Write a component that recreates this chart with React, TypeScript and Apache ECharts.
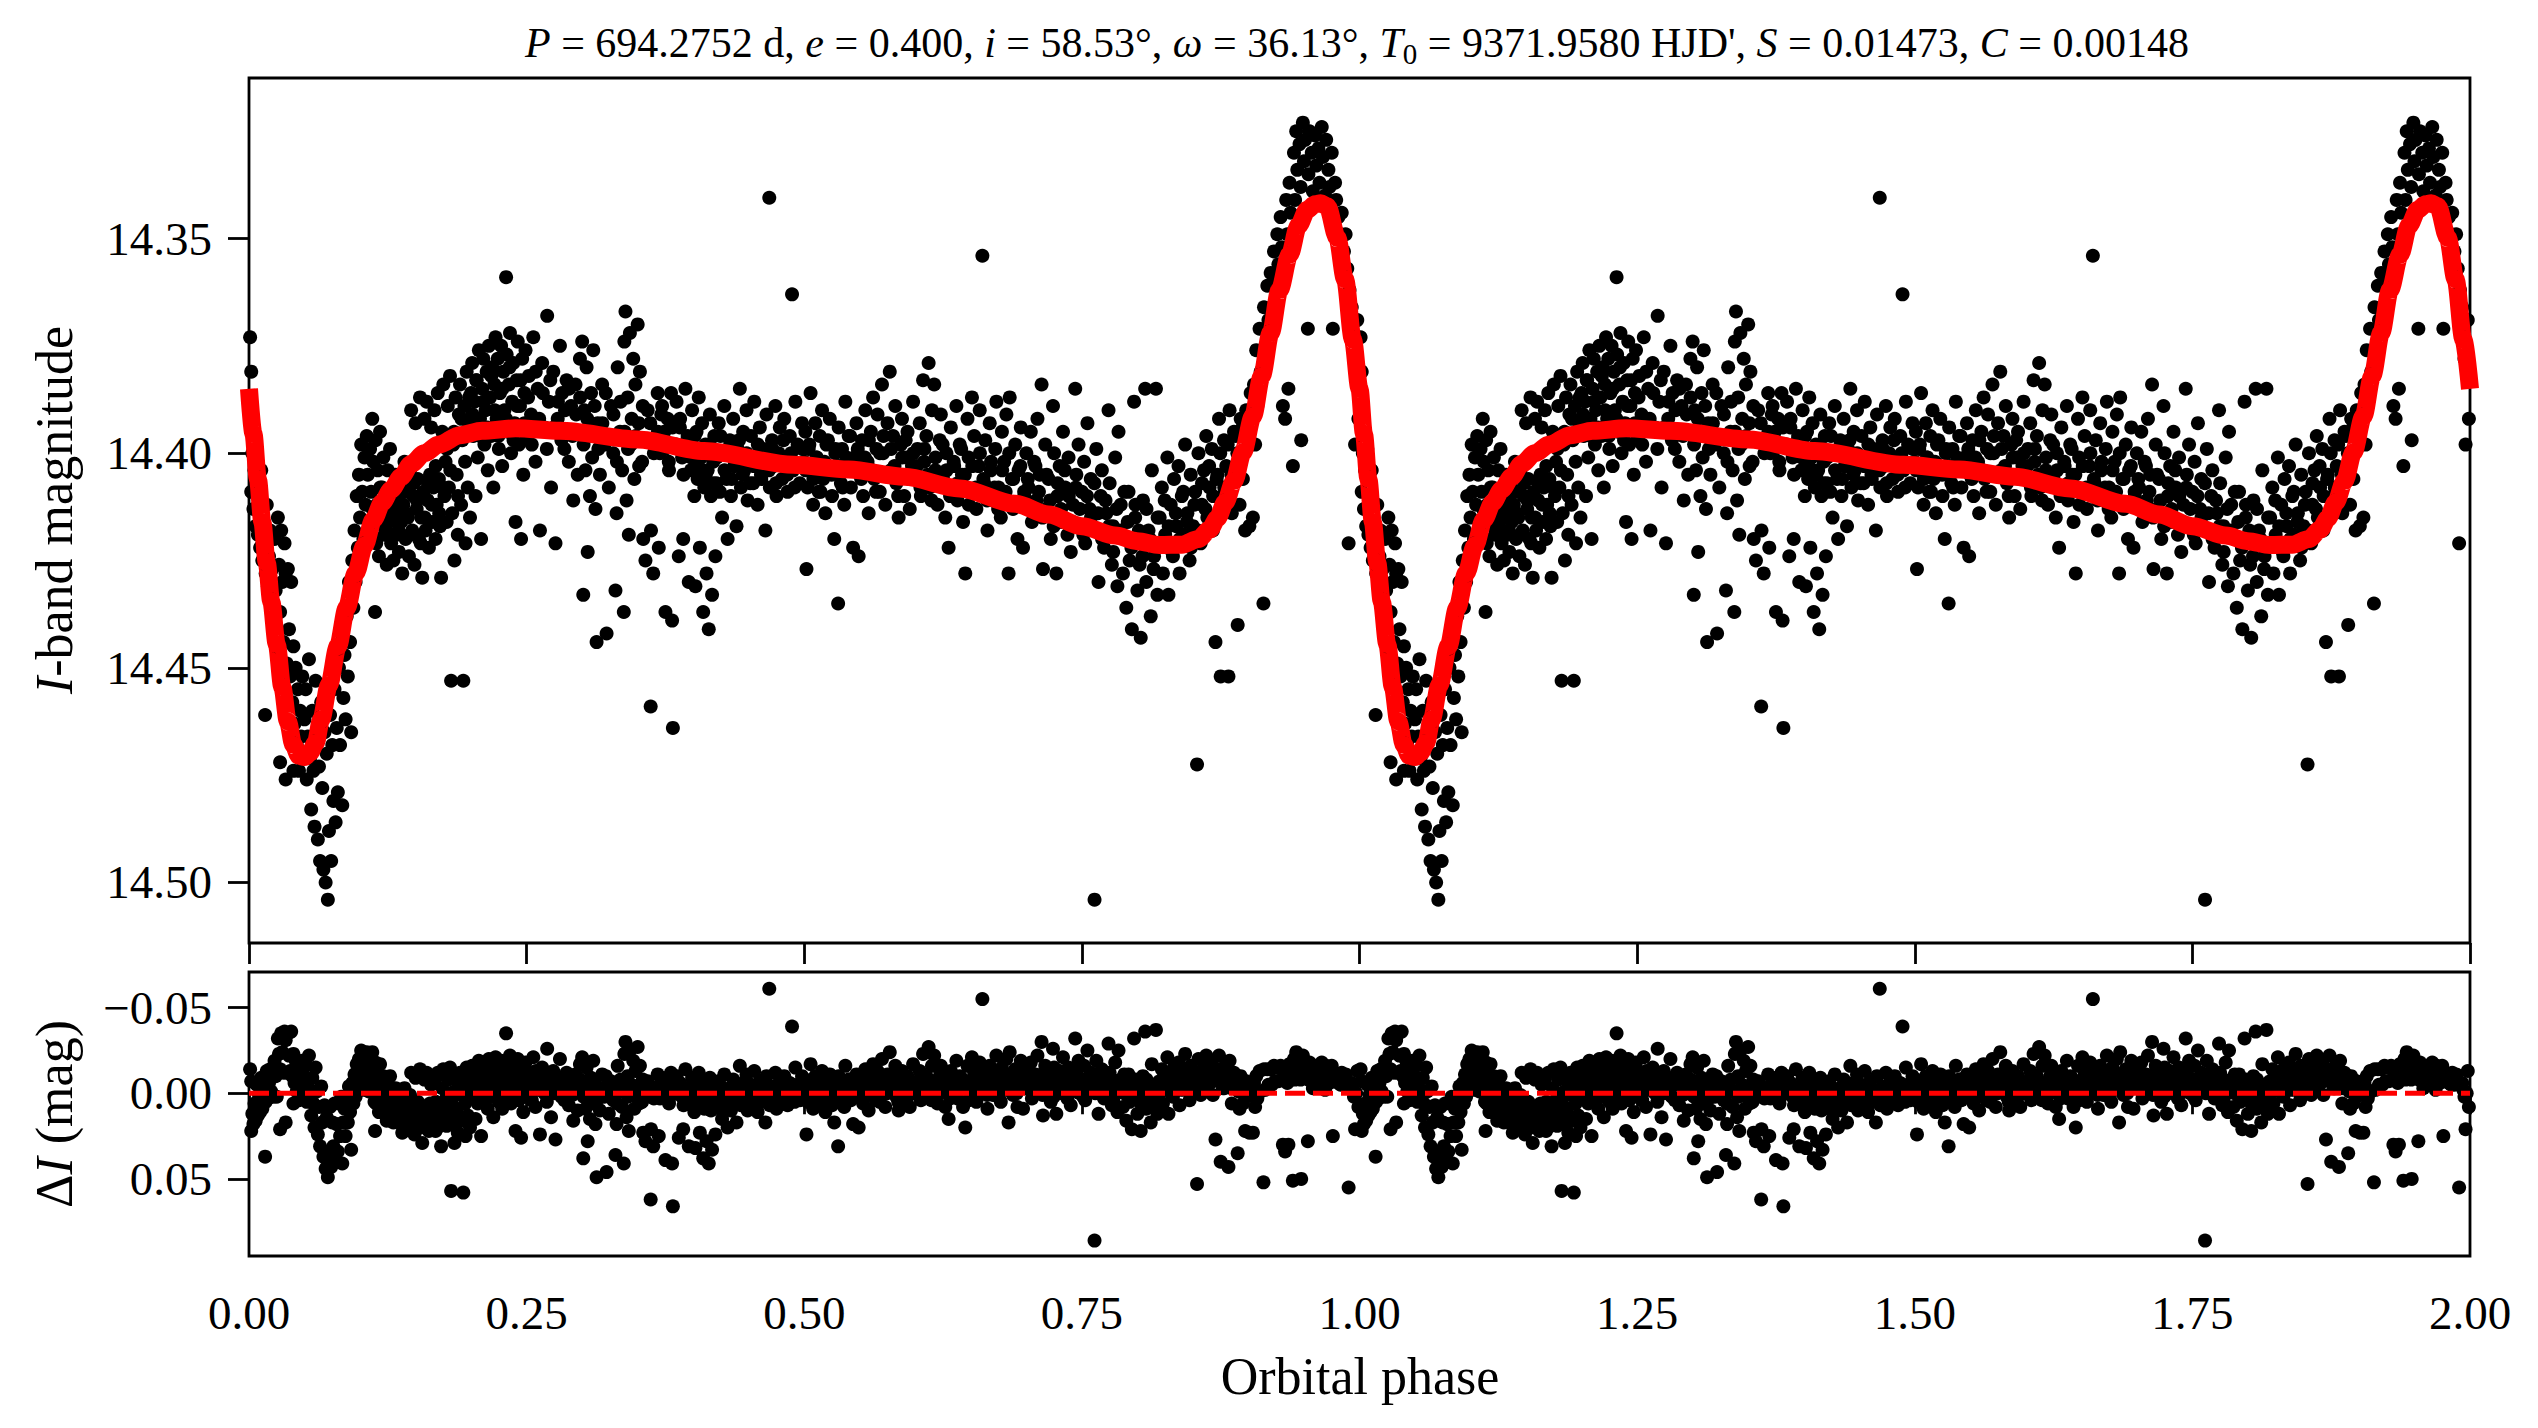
import React, { useEffect, useRef } from "react";
import * as echarts from "echarts";

// ---------- tick labels ----------
const magTicks = [14.35, 14.4, 14.45, 14.5];
const residTicks = [-0.05, 0, 0.05];
const phaseInterval = 0.25;

// ---------- fitted orbit model (one cycle, phase 0..1) ----------
const modelPhase = [0, 0.004, 0.008, 0.012, 0.016, 0.02, 0.025, 0.03, 0.035, 0.04, 0.045, 0.05, 0.055, 0.06, 0.065, 0.072, 0.08, 0.088, 0.096, 0.104, 0.112, 0.12, 0.128, 0.137, 0.146, 0.158, 0.171, 0.19, 0.21, 0.24, 0.28, 0.35, 0.41, 0.49, 0.54, 0.59, 0.64, 0.69, 0.72, 0.75, 0.78, 0.8, 0.82, 0.84, 0.855, 0.865, 0.872, 0.879, 0.887, 0.895, 0.904, 0.912, 0.92, 0.928, 0.937, 0.945, 0.953, 0.96, 0.965, 0.971, 0.98, 0.987, 0.994, 1.0];
const modelMag = [14.385, 14.3955, 14.406, 14.416, 14.4255, 14.4345, 14.4445, 14.4545, 14.4625, 14.468, 14.4705, 14.4708, 14.4697, 14.4675, 14.462, 14.454, 14.445, 14.436, 14.428, 14.4215, 14.4155, 14.4115, 14.4085, 14.4055, 14.4025, 14.4, 14.398, 14.3958, 14.3948, 14.3942, 14.3948, 14.3968, 14.3995, 14.4027, 14.4038, 14.4055, 14.4082, 14.4118, 14.4143, 14.417, 14.4192, 14.4205, 14.4214, 14.4213, 14.42, 14.4178, 14.4152, 14.4115, 14.4065, 14.3998, 14.3914, 14.382, 14.372, 14.362, 14.3538, 14.347, 14.3433, 14.342, 14.3418, 14.3425, 14.3499, 14.3595, 14.3735, 14.385];

// ---------- observations: [phase, I mag, residual] ----------
const obsDescent = [
  [0.001, 14.373, -0.014], [0.002, 14.381, -0.007], [0.002, 14.409, 0.022], [0.003, 14.4, 0.012], [0.004, 14.413, 0.018],
  [0.005, 14.404, 0.006], [0.006, 14.417, 0.016], [0.007, 14.399, -0.005], [0.008, 14.419, 0.013], [0.009, 14.41, 0.001],
  [0.01, 14.422, 0.011], [0.011, 14.404, -0.009], [0.012, 14.425, 0.009], [0.013, 14.416, -0.003], [0.0145, 14.461, 0.037],
  [0.015, 14.428, 0.005], [0.016, 14.412, -0.013], [0.017, 14.431, 0.003], [0.018, 14.424, -0.006], [0.019, 14.418, -0.014],
  [0.02, 14.433, -0.001], [0.021, 14.427, -0.01], [0.022, 14.44, 0.002], [0.023, 14.42, -0.019], [0.024, 14.432, -0.01],
  [0.025, 14.446, 0.002], [0.026, 14.415, -0.032], [0.027, 14.426, -0.023], [0.028, 14.437, -0.014], [0.029, 14.418, -0.035],
  [0.03, 14.43, -0.024], [0.031, 14.444, -0.012], [0.032, 14.421, -0.036], [0.033, 14.428, -0.031], [0.034, 14.449, -0.012],
  [0.035, 14.427, -0.035], [0.036, 14.441, -0.022], [0.037, 14.452, -0.013], [0.038, 14.43, -0.036], [0.039, 14.458, -0.01],
  [0.04, 14.445, -0.023], [0.041, 14.463, -0.006], [0.042, 14.45, -0.019], [0.043, 14.468, -0.001], [0.044, 14.455, -0.015],
  [0.045, 14.474, 0.004], [0.046, 14.46, -0.011], [0.047, 14.466, -0.005], [0.048, 14.452, -0.019], [0.049, 14.47, -0.001],
  [0.05, 14.462, -0.009], [0.028, 14.472, 0.021], [0.033, 14.476, 0.017], [0.04, 14.474, 0.006],
];

const obsMinimum = [
  [0.051, 14.455, -0.016], [0.052, 14.476, 0.005], [0.053, 14.466, -0.004], [0.054, 14.448, -0.022], [0.055, 14.471, 0.001],
  [0.056, 14.483, 0.013], [0.057, 14.46, -0.009], [0.058, 14.474, 0.006], [0.059, 14.487, 0.02], [0.06, 14.453, -0.015],
  [0.061, 14.466, -0.001], [0.062, 14.49, 0.024], [0.063, 14.473, 0.008], [0.064, 14.495, 0.031], [0.065, 14.458, -0.004],
  [0.066, 14.478, 0.017], [0.067, 14.497, 0.037], [0.068, 14.465, 0.007], [0.069, 14.5, 0.044], [0.07, 14.47, 0.014],
  [0.071, 14.504, 0.049], [0.072, 14.488, 0.034], [0.073, 14.461, 0.008], [0.074, 14.495, 0.043], [0.075, 14.468, 0.017],
  [0.076, 14.481, 0.031], [0.077, 14.455, 0.006], [0.078, 14.486, 0.039], [0.079, 14.464, 0.018], [0.08, 14.479, 0.034],
  [0.081, 14.45, 0.006], [0.082, 14.468, 0.025], [0.083, 14.444, 0.002], [0.084, 14.482, 0.041], [0.085, 14.457, 0.017],
  [0.086, 14.447, 0.009], [0.087, 14.462, 0.025], [0.088, 14.438, 0.002], [0.089, 14.452, 0.017], [0.09, 14.43, -0.004],
  [0.091, 14.444, 0.011], [0.092, 14.465, 0.033], [0.093, 14.425, -0.006], [0.094, 14.436, 0.006], [0.095, 14.418, -0.011],
  [0.096, 14.43, 0.002], [0.097, 14.41, -0.017], [0.098, 14.422, -0.004], [0.099, 14.405, -0.02], [0.1, 14.415, -0.01],
];

const obsRise = [
  [0.101, 14.398, -0.025], [0.102, 14.409, -0.014], [0.103, 14.42, -0.002], [0.104, 14.401, -0.02], [0.105, 14.412, -0.009],
  [0.106, 14.396, -0.024], [0.107, 14.405, -0.015], [0.108, 14.417, -0.001], [0.109, 14.399, -0.018], [0.11, 14.409, -0.007],
  [0.111, 14.392, -0.024], [0.112, 14.402, -0.014], [0.113, 14.42, 0.005], [0.1135, 14.437, 0.022], [0.114, 14.397, -0.018],
  [0.115, 14.412, -0.003], [0.116, 14.404, -0.01], [0.117, 14.424, 0.011], [0.118, 14.395, -0.017], [0.119, 14.415, 0.003],
  [0.12, 14.408, -0.003], [0.121, 14.401, -0.01], [0.122, 14.419, 0.008], [0.123, 14.411, 0.0], [0.124, 14.426, 0.016],
  [0.125, 14.404, -0.005], [0.126, 14.416, 0.007], [0.127, 14.399, -0.01], [0.128, 14.421, 0.012], [0.129, 14.41, 0.002],
  [0.13, 14.425, 0.017], [0.131, 14.414, 0.006], [0.132, 14.405, -0.003], [0.133, 14.419, 0.011], [0.134, 14.411, 0.004],
  [0.135, 14.423, 0.017], [0.136, 14.407, 0.001], [0.137, 14.416, 0.01], [0.138, 14.428, 0.023], [0.139, 14.412, 0.007],
  [0.14, 14.402, -0.003], [0.141, 14.42, 0.015], [0.142, 14.409, 0.005], [0.143, 14.415, 0.011], [0.144, 14.424, 0.021],
  [0.145, 14.404, 0.001], [0.146, 14.39, -0.012], [0.147, 14.418, 0.016], [0.148, 14.41, 0.008], [0.149, 14.426, 0.024],
  [0.15, 14.393, -0.009], [0.151, 14.413, 0.012], [0.152, 14.406, 0.005], [0.153, 14.42, 0.019], [0.154, 14.387, -0.014],
  [0.155, 14.415, 0.014], [0.156, 14.429, 0.029], [0.157, 14.409, 0.009], [0.158, 14.392, -0.008], [0.159, 14.418, 0.018],
  [0.16, 14.388, -0.012], [0.161, 14.411, 0.011], [0.162, 14.422, 0.022], [0.163, 14.405, 0.006], [0.164, 14.394, -0.005],
  [0.165, 14.416, 0.017], [0.166, 14.408, 0.009], [0.167, 14.39, -0.008], [0.168, 14.42, 0.022], [0.169, 14.412, 0.014],
  [0.17, 14.386, -0.012], [0.171, 14.406, 0.008], [0.172, 14.417, 0.019], [0.173, 14.429, 0.031], [0.174, 14.395, -0.003],
  [0.175, 14.384, -0.014], [0.176, 14.41, 0.012], [0.177, 14.402, 0.004], [0.178, 14.416, 0.019], [0.179, 14.389, -0.008],
  [0.18, 14.408, 0.011], [0.181, 14.382, -0.015], [0.182, 14.453, 0.057], [0.183, 14.414, 0.018], [0.184, 14.398, 0.002],
  [0.185, 14.425, 0.029], [0.186, 14.387, -0.009], [0.187, 14.405, 0.009], [0.188, 14.419, 0.023], [0.189, 14.391, -0.005],
  [0.19, 14.384, -0.012], [0.191, 14.412, 0.016], [0.192, 14.397, 0.001], [0.193, 14.453, 0.058], [0.194, 14.389, -0.007],
  [0.195, 14.421, 0.025], [0.196, 14.381, -0.015], [0.197, 14.408, 0.013], [0.198, 14.393, -0.003], [0.199, 14.415, 0.02],
  [0.2, 14.386, -0.009],
];

const obsPlateauEarly = [
  [0.201, 14.379, -0.016], [0.202, 14.396, 0.001], [0.203, 14.388, -0.007], [0.204, 14.41, 0.015], [0.205, 14.383, -0.012],
  [0.206, 14.401, 0.006], [0.207, 14.376, -0.019], [0.208, 14.392, -0.003], [0.209, 14.42, 0.025], [0.21, 14.385, -0.01],
  [0.211, 14.378, -0.017], [0.212, 14.398, 0.003], [0.213, 14.39, -0.005], [0.214, 14.381, -0.014], [0.215, 14.404, 0.009],
  [0.216, 14.375, -0.02], [0.217, 14.387, -0.008], [0.218, 14.396, 0.002], [0.219, 14.38, -0.014], [0.22, 14.408, 0.014],
  [0.221, 14.384, -0.01], [0.222, 14.373, -0.021], [0.223, 14.392, -0.002], [0.224, 14.378, -0.016], [0.225, 14.399, 0.005],
  [0.226, 14.386, -0.008], [0.227, 14.375, -0.019], [0.228, 14.403, 0.009], [0.229, 14.381, -0.013], [0.23, 14.39, -0.004],
  [0.2315, 14.359, -0.035], [0.232, 14.377, -0.017], [0.233, 14.395, 0.001], [0.234, 14.384, -0.01], [0.235, 14.372, -0.022],
  [0.236, 14.4, 0.006], [0.237, 14.388, -0.006], [0.238, 14.379, -0.015], [0.239, 14.393, -0.001], [0.24, 14.416, 0.022],
  [0.241, 14.383, -0.011], [0.242, 14.374, -0.02], [0.243, 14.398, 0.004], [0.244, 14.389, -0.005], [0.245, 14.42, 0.026],
  [0.246, 14.378, -0.016], [0.247, 14.405, 0.011], [0.248, 14.386, -0.008], [0.249, 14.376, -0.018], [0.25, 14.396, 0.002],
  [0.252, 14.382, -0.012], [0.254, 14.391, -0.003], [0.256, 14.373, -0.021], [0.258, 14.402, 0.008], [0.26, 14.385, -0.009],
  [0.262, 14.418, 0.024], [0.264, 14.379, -0.015], [0.266, 14.394, 0.0], [0.2685, 14.368, -0.026], [0.27, 14.388, -0.006],
  [0.272, 14.408, 0.014], [0.274, 14.381, -0.013], [0.276, 14.421, 0.027], [0.278, 14.392, -0.002], [0.28, 14.375, -0.02],
  [0.282, 14.386, -0.009], [0.284, 14.399, 0.004], [0.286, 14.383, -0.012], [0.288, 14.402, 0.007], [0.29, 14.389, -0.006],
  [0.292, 14.411, 0.016], [0.294, 14.384, -0.011], [0.296, 14.405, 0.01], [0.298, 14.378, -0.017], [0.3, 14.374, -0.021],
];

const obsPlateauMid = [
  [0.301, 14.433, 0.038], [0.302, 14.39, -0.005], [0.303, 14.404, 0.009], [0.304, 14.38, -0.015], [0.305, 14.423, 0.028],
  [0.306, 14.396, 0.001], [0.307, 14.41, 0.015], [0.308, 14.386, -0.009], [0.309, 14.401, 0.006], [0.31, 14.376, -0.019],
  [0.312, 14.413, 0.018], [0.313, 14.444, 0.049], [0.314, 14.393, -0.002], [0.316, 14.405, 0.01], [0.318, 14.384, -0.011],
  [0.32, 14.398, 0.002], [0.322, 14.442, 0.046], [0.324, 14.408, 0.012], [0.326, 14.389, -0.007], [0.328, 14.4, 0.004],
  [0.33, 14.432, 0.036], [0.331, 14.414, 0.018], [0.332, 14.38, -0.016], [0.334, 14.395, -0.001], [0.336, 14.404, 0.008],
  [0.3375, 14.437, 0.041], [0.338, 14.374, -0.023], [0.339, 14.367, -0.03], [0.34, 14.411, 0.014], [0.341, 14.387, -0.01],
  [0.342, 14.419, 0.022], [0.343, 14.372, -0.025], [0.344, 14.398, 0.001], [0.346, 14.378, -0.019], [0.347, 14.406, 0.009],
  [0.348, 14.384, -0.013], [0.35, 14.37, -0.027], [0.351, 14.393, -0.004], [0.352, 14.381, -0.016], [0.354, 14.402, 0.005],
  [0.355, 14.42, 0.023], [0.357, 14.425, 0.028], [0.359, 14.39, -0.007], [0.3617, 14.459, 0.062], [0.362, 14.418, 0.021],
  [0.364, 14.428, 0.031], [0.366, 14.397, 0.0], [0.368, 14.386, -0.011], [0.369, 14.422, 0.025], [0.37, 14.4, 0.003],
  [0.372, 14.389, -0.009], [0.374, 14.395, -0.003], [0.375, 14.437, 0.039], [0.377, 14.392, -0.006], [0.378, 14.402, 0.004],
  [0.38, 14.386, -0.012], [0.381, 14.439, 0.041], [0.3817, 14.464, 0.066], [0.383, 14.398, 0.0], [0.385, 14.388, -0.01],
  [0.387, 14.424, 0.026], [0.388, 14.394, -0.004], [0.39, 14.401, 0.002], [0.391, 14.42, 0.021], [0.393, 14.385, -0.014],
  [0.395, 14.396, -0.003], [0.396, 14.43, 0.031], [0.398, 14.404, 0.005], [0.399, 14.39, -0.009], [0.4, 14.399, 0.0],
];

const obsPlateauLate = [
  [0.401, 14.41, 0.011], [0.402, 14.431, 0.032], [0.403, 14.395, -0.004], [0.404, 14.406, 0.007], [0.405, 14.387, -0.012],
  [0.406, 14.422, 0.023], [0.407, 14.401, 0.002], [0.408, 14.393, -0.006], [0.409, 14.437, 0.038], [0.41, 14.408, 0.009],
  [0.411, 14.398, -0.002], [0.412, 14.428, 0.028], [0.413, 14.404, 0.004], [0.414, 14.441, 0.041], [0.415, 14.391, -0.009],
  [0.416, 14.41, 0.01], [0.417, 14.433, 0.033], [0.418, 14.402, 0.002], [0.419, 14.396, -0.004], [0.42, 14.424, 0.024],
  [0.421, 14.407, 0.007], [0.423, 14.393, -0.007], [0.424, 14.409, 0.009], [0.426, 14.415, 0.015], [0.427, 14.4, 0.0],
  [0.428, 14.389, -0.011], [0.43, 14.406, 0.006], [0.431, 14.42, 0.02], [0.433, 14.397, -0.003], [0.434, 14.41, 0.01],
  [0.436, 14.392, -0.008], [0.437, 14.403, 0.003], [0.439, 14.417, 0.017], [0.44, 14.399, -0.002], [0.442, 14.385, -0.016],
  [0.443, 14.408, 0.007], [0.445, 14.395, -0.006], [0.446, 14.404, 0.003], [0.448, 14.39, -0.011], [0.449, 14.411, 0.01],
  [0.451, 14.401, 0.0], [0.452, 14.396, -0.005], [0.454, 14.407, 0.006], [0.455, 14.388, -0.013], [0.457, 14.402, 0.001],
  [0.458, 14.412, 0.011], [0.46, 14.394, -0.007], [0.461, 14.405, 0.004], [0.463, 14.399, -0.002], [0.465, 14.418, 0.017],
  [0.466, 14.391, -0.01], [0.4685, 14.3405, -0.061], [0.469, 14.408, 0.007], [0.471, 14.397, -0.004], [0.472, 14.403, 0.002],
  [0.474, 14.389, -0.012], [0.475, 14.41, 0.009], [0.477, 14.4, -0.001], [0.478, 14.394, -0.007], [0.48, 14.406, 0.004],
  [0.482, 14.392, -0.01], [0.483, 14.401, -0.001], [0.485, 14.409, 0.007], [0.487, 14.396, -0.006], [0.489, 14.363, -0.039],
  [0.49, 14.404, 0.001], [0.492, 14.388, -0.015], [0.494, 14.398, -0.005], [0.496, 14.407, 0.004], [0.498, 14.393, -0.01],
  [0.5, 14.402, -0.001],
];

const obsFadeEarly = [
  [0.501, 14.395, -0.008], [0.502, 14.427, 0.024], [0.503, 14.408, 0.005], [0.504, 14.399, -0.004], [0.5057, 14.386, -0.017],
  [0.507, 14.404, 0.001], [0.508, 14.412, 0.009], [0.51, 14.393, -0.01], [0.511, 14.401, -0.002], [0.513, 14.409, 0.006],
  [0.514, 14.396, -0.007], [0.516, 14.39, -0.013], [0.517, 14.406, 0.003], [0.519, 14.414, 0.011], [0.52, 14.398, -0.005],
  [0.522, 14.403, 0.0], [0.523, 14.392, -0.011], [0.525, 14.41, 0.007], [0.527, 14.42, 0.017], [0.528, 14.4, -0.004],
  [0.5305, 14.435, 0.031], [0.531, 14.394, -0.01], [0.533, 14.407, 0.003], [0.534, 14.399, -0.005], [0.536, 14.412, 0.008],
  [0.537, 14.388, -0.016], [0.539, 14.403, -0.001], [0.54, 14.396, -0.008], [0.542, 14.408, 0.004], [0.544, 14.422, 0.018],
  [0.545, 14.401, -0.003], [0.547, 14.393, -0.011], [0.549, 14.424, 0.02], [0.55, 14.405, 0.001], [0.552, 14.397, -0.007],
  [0.553, 14.41, 0.006], [0.555, 14.39, -0.014], [0.557, 14.402, -0.002], [0.558, 14.414, 0.01], [0.56, 14.395, -0.009],
  [0.562, 14.387, -0.017], [0.563, 14.406, 0.002], [0.565, 14.399, -0.005], [0.566, 14.391, -0.013], [0.568, 14.409, 0.005],
  [0.57, 14.384, -0.02], [0.571, 14.4, -0.004], [0.573, 14.412, 0.008], [0.575, 14.393, -0.011], [0.577, 14.381, -0.024],
  [0.578, 14.404, -0.001], [0.58, 14.396, -0.009], [0.582, 14.389, -0.016], [0.583, 14.407, 0.002], [0.585, 14.415, 0.01],
  [0.587, 14.398, -0.007], [0.588, 14.392, -0.013], [0.59, 14.41, 0.005], [0.592, 14.401, -0.004], [0.593, 14.395, -0.01],
  [0.595, 14.413, 0.008], [0.597, 14.403, -0.002], [0.598, 14.388, -0.017], [0.6, 14.406, 0.0],
];

const obsFadeMid = [
  [0.602, 14.399, -0.007], [0.604, 14.393, -0.013], [0.605, 14.41, 0.004], [0.607, 14.383, -0.023], [0.608, 14.402, -0.004],
  [0.61, 14.396, -0.01], [0.612, 14.379, -0.027], [0.613, 14.408, 0.002], [0.615, 14.39, -0.016], [0.617, 14.384, -0.022],
  [0.618, 14.404, -0.002], [0.62, 14.412, 0.006], [0.622, 14.397, -0.01], [0.623, 14.391, -0.016], [0.625, 14.406, -0.001],
  [0.627, 14.415, 0.008], [0.628, 14.4, -0.007], [0.63, 14.422, 0.015], [0.632, 14.394, -0.013], [0.633, 14.409, 0.002],
  [0.635, 14.403, -0.004], [0.637, 14.389, -0.019], [0.638, 14.411, 0.003], [0.64, 14.398, -0.01], [0.642, 14.405, -0.003],
  [0.643, 14.416, 0.008], [0.645, 14.428, 0.02], [0.647, 14.392, -0.016], [0.648, 14.401, -0.007], [0.65, 14.409, 0.001],
  [0.651, 14.387, -0.021], [0.653, 14.396, -0.012], [0.655, 14.413, 0.005], [0.657, 14.403, -0.005], [0.658, 14.39, -0.018],
  [0.6604, 14.354, -0.055], [0.662, 14.407, -0.002], [0.663, 14.397, -0.012], [0.665, 14.418, 0.009], [0.667, 14.393, -0.016],
  [0.668, 14.404, -0.005], [0.67, 14.411, 0.001], [0.672, 14.399, -0.011], [0.673, 14.388, -0.022], [0.675, 14.408, -0.002],
  [0.677, 14.415, 0.005], [0.678, 14.395, -0.015], [0.68, 14.402, -0.008], [0.682, 14.391, -0.02], [0.684, 14.428, 0.017],
  [0.685, 14.387, -0.024], [0.687, 14.406, -0.005], [0.688, 14.413, 0.001], [0.69, 14.398, -0.014], [0.692, 14.42, 0.008],
  [0.693, 14.404, -0.008], [0.695, 14.394, -0.019], [0.697, 14.422, 0.009], [0.698, 14.409, -0.004], [0.7, 14.4, -0.013],
];

const obsFadeLate = [
  [0.702, 14.408, -0.005], [0.704, 14.395, -0.018], [0.705, 14.416, 0.003], [0.707, 14.402, -0.011], [0.709, 14.411, -0.002],
  [0.71, 14.392, -0.022], [0.712, 14.405, -0.009], [0.7137, 14.384, -0.03], [0.715, 14.427, 0.013], [0.717, 14.398, -0.016],
  [0.718, 14.413, -0.001], [0.72, 14.406, -0.009], [0.722, 14.42, 0.005], [0.724, 14.389, -0.026], [0.725, 14.4, -0.015],
  [0.727, 14.428, 0.012], [0.728, 14.41, -0.006], [0.73, 14.403, -0.013], [0.732, 14.416, 0.0], [0.733, 14.395, -0.021],
  [0.735, 14.408, -0.008], [0.737, 14.419, 0.003], [0.738, 14.401, -0.015], [0.74, 14.423, 0.007], [0.742, 14.412, -0.004],
  [0.744, 14.385, -0.032], [0.745, 14.405, -0.012], [0.747, 14.398, -0.019], [0.748, 14.417, 0.0], [0.75, 14.409, -0.008],
  [0.752, 14.402, -0.016], [0.753, 14.421, 0.004], [0.755, 14.393, -0.025], [0.757, 14.413, -0.005], [0.758, 14.406, -0.012],
  [0.7614, 14.504, 0.086], [0.762, 14.418, 0.0], [0.763, 14.399, -0.019], [0.765, 14.43, 0.012], [0.767, 14.41, -0.008],
  [0.768, 14.404, -0.014], [0.77, 14.422, 0.003], [0.772, 14.414, -0.005], [0.774, 14.39, -0.029], [0.775, 14.407, -0.012],
  [0.777, 14.426, 0.007], [0.778, 14.417, -0.002], [0.78, 14.401, -0.018], [0.782, 14.431, 0.011], [0.783, 14.395, -0.025],
  [0.785, 14.412, -0.008], [0.787, 14.428, 0.008], [0.788, 14.42, 0.0], [0.79, 14.436, 0.016], [0.792, 14.409, -0.011],
  [0.793, 14.425, 0.005], [0.795, 14.441, 0.021], [0.797, 14.388, -0.032], [0.798, 14.415, -0.005], [0.8, 14.432, 0.012],
];

const obsTrough = [
  [0.802, 14.426, 0.005], [0.803, 14.443, 0.022], [0.805, 14.411, -0.01], [0.807, 14.385, -0.036], [0.808, 14.43, 0.009],
  [0.81, 14.418, -0.003], [0.812, 14.438, 0.017], [0.813, 14.404, -0.017], [0.815, 14.424, 0.003], [0.8167, 14.385, -0.037],
  [0.818, 14.433, 0.012], [0.82, 14.415, -0.007], [0.822, 14.408, -0.014], [0.823, 14.428, 0.006], [0.825, 14.419, -0.003],
  [0.827, 14.401, -0.021], [0.828, 14.433, 0.012], [0.83, 14.412, -0.01], [0.832, 14.424, 0.002], [0.833, 14.406, -0.015],
  [0.835, 14.417, -0.004], [0.837, 14.403, -0.018], [0.838, 14.428, 0.007], [0.84, 14.41, -0.011], [0.842, 14.419, -0.002],
  [0.843, 14.398, -0.023], [0.845, 14.414, -0.007], [0.847, 14.425, 0.004], [0.848, 14.405, -0.016], [0.85, 14.417, -0.004],
  [0.852, 14.409, -0.012], [0.8537, 14.4725, 0.053], [0.855, 14.4, -0.02], [0.857, 14.421, 0.001], [0.858, 14.412, -0.008],
  [0.86, 14.404, -0.015], [0.862, 14.396, -0.022], [0.863, 14.415, -0.003], [0.865, 14.408, -0.01], [0.867, 14.399, -0.018],
  [0.868, 14.418, 0.001], [0.8703, 14.444, 0.027], [0.872, 14.405, -0.01], [0.8735, 14.392, -0.022], [0.875, 14.452, 0.04],
  [0.877, 14.41, -0.003], [0.878, 14.397, -0.015], [0.88, 14.403, -0.008], [0.882, 14.452, 0.043], [0.883, 14.39, -0.019],
  [0.885, 14.414, 0.006], [0.887, 14.395, -0.012], [0.8903, 14.44, 0.035], [0.89, 14.4, -0.005], [0.892, 14.412, 0.009],
  [0.893, 14.392, -0.01], [0.895, 14.406, 0.006], [0.897, 14.418, 0.022], [0.898, 14.39, -0.007], [0.9008, 14.417, 0.023],
];

const obsPeak = [
  [0.902, 14.386, -0.003], [0.904, 14.415, 0.023], [0.905, 14.384, -0.006], [0.906, 14.398, 0.008], [0.907, 14.376, -0.01],
  [0.908, 14.389, 0.003], [0.91, 14.371, -0.013], [0.911, 14.381, -0.001], [0.9135, 14.435, 0.052], [0.914, 14.366, -0.014],
  [0.915, 14.376, -0.002], [0.917, 14.361, -0.014], [0.918, 14.369, -0.005], [0.92, 14.358, -0.014], [0.921, 14.366, -0.005],
  [0.923, 14.353, -0.016], [0.924, 14.36, -0.007], [0.926, 14.349, -0.015], [0.927, 14.356, -0.007], [0.929, 14.345, -0.016],
  [0.93, 14.352, -0.008], [0.931, 14.389, 0.03], [0.933, 14.392, 0.034], [0.934, 14.341, -0.014], [0.935, 14.349, -0.006],
  [0.936, 14.385, 0.03], [0.937, 14.337, -0.017], [0.938, 14.344, -0.009], [0.94, 14.403, 0.051], [0.9475, 14.397, 0.05],
  [0.941, 14.33, -0.02], [0.942, 14.341, -0.008], [0.943, 14.325, -0.024], [0.944, 14.334, -0.014], [0.946, 14.328, -0.019],
  [0.947, 14.338, -0.008], [0.949, 14.323, -0.022], [0.95, 14.332, -0.012], [0.951, 14.327, -0.017], [0.9535, 14.371, 0.028],
  [0.954, 14.335, -0.008], [0.955, 14.325, -0.018], [0.957, 14.33, -0.012], [0.958, 14.339, -0.003], [0.96, 14.326, -0.016],
  [0.961, 14.333, -0.009], [0.963, 14.329, -0.013], [0.964, 14.337, -0.005], [0.966, 14.324, -0.018], [0.967, 14.331, -0.011],
  [0.969, 14.34, -0.002], [0.97, 14.327, -0.016], [0.972, 14.334, -0.009], [0.973, 14.338, -0.006], [0.975, 14.33, -0.016],
  [0.976, 14.371, 0.025], [0.978, 14.337, -0.011], [0.979, 14.341, -0.008], [0.981, 14.345, -0.006], [0.983, 14.349, -0.005],
  [0.984, 14.344, -0.012], [0.986, 14.353, -0.005], [0.9875, 14.349, -0.011], [0.9902, 14.421, 0.055], [0.989, 14.357, -0.006],
  [0.991, 14.362, -0.006], [0.993, 14.366, -0.006], [0.994, 14.372, -0.002], [0.995, 14.378, 0.002], [0.996, 14.398, 0.021],
  [0.997, 14.38, 0.0], [0.998, 14.369, -0.013], [0.999, 14.392, 0.008],
];

// dense core of the light curve between the dips
const obsCoreA = [
  [0.1113, 14.413, -0.004], [0.1146, 14.421, 0.006], [0.1182, 14.408, -0.004], [0.1213, 14.417, 0.006], [0.1246, 14.413, 0.003],
  [0.1282, 14.419, 0.011], [0.1313, 14.412, 0.004], [0.1346, 14.418, 0.012], [0.1382, 14.409, 0.004], [0.1413, 14.414, 0.01],
  [0.1446, 14.419, 0.016], [0.1482, 14.407, 0.005], [0.1513, 14.411, 0.009], [0.1546, 14.421, 0.02], [0.1582, 14.415, 0.015],
  [0.1613, 14.407, 0.007], [0.1646, 14.412, 0.013], [0.1682, 14.403, 0.005], [0.1713, 14.414, 0.016], [0.1746, 14.408, 0.011],
  [0.1782, 14.399, 0.002], [0.1813, 14.404, 0.007], [0.1846, 14.395, -0.001], [0.1882, 14.41, 0.014], [0.1913, 14.392, -0.004],
  [0.1946, 14.402, 0.006], [0.1982, 14.387, -0.008], [0.2013, 14.391, -0.004], [0.2046, 14.383, -0.012], [0.2082, 14.396, 0.001],
  [0.2113, 14.388, -0.007], [0.2146, 14.394, -0.001], [0.2182, 14.382, -0.013], [0.2213, 14.39, -0.005], [0.2246, 14.396, 0.002],
  [0.2282, 14.385, -0.01], [0.2313, 14.392, -0.002], [0.2346, 14.38, -0.014], [0.2382, 14.397, 0.003], [0.2413, 14.389, -0.005],
  [0.2446, 14.383, -0.011], [0.2482, 14.393, -0.001], [0.2513, 14.387, -0.007], [0.2546, 14.398, 0.004], [0.2582, 14.381, -0.013],
  [0.2613, 14.392, -0.002], [0.2646, 14.386, -0.008], [0.2682, 14.399, 0.005], [0.2713, 14.383, -0.011], [0.2746, 14.394, 0.0],
  [0.2782, 14.388, -0.006], [0.2813, 14.397, 0.002], [0.2846, 14.39, -0.005], [0.2882, 14.385, -0.01], [0.2913, 14.396, 0.001],
  [0.2946, 14.391, -0.004], [0.2982, 14.387, -0.008], [0.3013, 14.398, 0.002], [0.3046, 14.392, -0.004], [0.3082, 14.395, -0.001],
  [0.3113, 14.389, -0.007], [0.3146, 14.399, 0.003], [0.3182, 14.393, -0.003], [0.3213, 14.386, -0.01], [0.3246, 14.396, 0.0],
  [0.3282, 14.391, -0.005], [0.3313, 14.402, 0.006], [0.3346, 14.388, -0.008], [0.3382, 14.395, -0.001], [0.3413, 14.399, 0.002],
  [0.3446, 14.392, -0.005], [0.3482, 14.396, -0.001], [0.3513, 14.403, 0.006], [0.3546, 14.389, -0.008], [0.3582, 14.397, 0.0],
  [0.3613, 14.393, -0.004], [0.3646, 14.4, 0.003], [0.3682, 14.395, -0.002], [0.3713, 14.391, -0.006], [0.3746, 14.399, 0.001],
  [0.3782, 14.404, 0.006], [0.3813, 14.394, -0.004], [0.3846, 14.398, 0.0], [0.3882, 14.392, -0.006], [0.3913, 14.405, 0.007],
  [0.3946, 14.397, -0.001], [0.3982, 14.401, 0.003],
];

const obsCoreB = [
  [0.4013, 14.396, -0.004], [0.4046, 14.403, 0.003], [0.4082, 14.399, -0.001], [0.4113, 14.405, 0.005], [0.4146, 14.398, -0.002],
  [0.4182, 14.407, 0.007], [0.4213, 14.401, 0.001], [0.4246, 14.396, -0.004], [0.4282, 14.404, 0.004], [0.4313, 14.399, -0.001],
  [0.4346, 14.406, 0.006], [0.4382, 14.402, 0.002], [0.4413, 14.397, -0.003], [0.4446, 14.405, 0.004], [0.4482, 14.4, -0.001],
  [0.4513, 14.407, 0.006], [0.4546, 14.403, 0.002], [0.4582, 14.398, -0.003], [0.4613, 14.406, 0.005], [0.4646, 14.401, 0.0],
  [0.4682, 14.404, 0.002], [0.4713, 14.399, -0.003], [0.4746, 14.407, 0.005], [0.4782, 14.402, 0.0], [0.4813, 14.397, -0.005],
  [0.4846, 14.405, 0.003], [0.4882, 14.4, -0.002], [0.4913, 14.408, 0.005], [0.4946, 14.403, 0.0], [0.4982, 14.399, -0.004],
  [0.5013, 14.404, 0.001], [0.5046, 14.398, -0.005], [0.5082, 14.406, 0.003], [0.5113, 14.401, -0.002], [0.5146, 14.409, 0.006],
  [0.5182, 14.402, -0.001], [0.5213, 14.397, -0.006], [0.5246, 14.405, 0.002], [0.5282, 14.399, -0.004], [0.5313, 14.403, -0.001],
  [0.5346, 14.408, 0.004], [0.5382, 14.401, -0.003], [0.5413, 14.396, -0.008], [0.5446, 14.404, 0.0], [0.5482, 14.399, -0.005],
  [0.5513, 14.406, 0.002], [0.5546, 14.401, -0.003], [0.5582, 14.397, -0.008], [0.5613, 14.404, -0.001], [0.5646, 14.409, 0.004],
  [0.5682, 14.4, -0.005], [0.5713, 14.396, -0.009], [0.5746, 14.405, 0.0], [0.5782, 14.399, -0.006], [0.5813, 14.403, -0.002],
  [0.5846, 14.41, 0.005], [0.5882, 14.401, -0.004], [0.5913, 14.397, -0.009], [0.5946, 14.406, 0.001], [0.5982, 14.4, -0.006],
  [0.6013, 14.403, -0.003], [0.6046, 14.408, 0.002], [0.6082, 14.399, -0.007], [0.6113, 14.405, -0.001], [0.6146, 14.411, 0.004],
  [0.6182, 14.401, -0.006], [0.6213, 14.407, 0.0], [0.6246, 14.398, -0.009], [0.6282, 14.404, -0.003], [0.6313, 14.41, 0.003],
  [0.6346, 14.402, -0.006], [0.6382, 14.407, -0.001], [0.6413, 14.399, -0.009], [0.6446, 14.405, -0.003], [0.6482, 14.412, 0.004],
  [0.6513, 14.403, -0.006], [0.6546, 14.408, -0.001], [0.6582, 14.4, -0.009], [0.6613, 14.406, -0.004], [0.6646, 14.411, 0.001],
  [0.6682, 14.402, -0.008], [0.6713, 14.408, -0.002], [0.6746, 14.413, 0.002], [0.6782, 14.404, -0.007], [0.6813, 14.409, -0.002],
  [0.6846, 14.4, -0.011], [0.6882, 14.406, -0.006], [0.6913, 14.412, 0.0], [0.6946, 14.403, -0.009], [0.6982, 14.41, -0.003],
];

const obsCoreC = [
  [0.7013, 14.406, -0.007], [0.7046, 14.412, -0.001], [0.7082, 14.403, -0.011], [0.7113, 14.409, -0.005], [0.7146, 14.415, 0.001],
  [0.7182, 14.405, -0.01], [0.7213, 14.411, -0.004], [0.7246, 14.417, 0.002], [0.7282, 14.407, -0.008], [0.7313, 14.413, -0.003],
  [0.7346, 14.404, -0.012], [0.7382, 14.41, -0.006], [0.7413, 14.416, -0.001], [0.7446, 14.408, -0.009], [0.7482, 14.413, -0.004],
  [0.7513, 14.419, 0.002], [0.7546, 14.41, -0.008], [0.7582, 14.415, -0.003], [0.7613, 14.407, -0.011], [0.7646, 14.414, -0.005],
  [0.7682, 14.42, 0.001], [0.7713, 14.411, -0.008], [0.7746, 14.417, -0.002], [0.7782, 14.423, 0.004], [0.7813, 14.413, -0.007],
  [0.7846, 14.418, -0.002], [0.7882, 14.409, -0.011], [0.7913, 14.416, -0.005], [0.7946, 14.422, 0.002], [0.7982, 14.412, -0.008],
  [0.8013, 14.418, -0.003], [0.8046, 14.424, 0.003], [0.8082, 14.413, -0.008], [0.8113, 14.42, -0.001], [0.8146, 14.427, 0.006],
  [0.8182, 14.415, -0.006], [0.8213, 14.421, -0.001], [0.8246, 14.411, -0.011], [0.8282, 14.417, -0.005], [0.8313, 14.423, 0.001],
  [0.8346, 14.414, -0.008], [0.8382, 14.42, -0.002], [0.8413, 14.409, -0.012], [0.8446, 14.416, -0.005], [0.8482, 14.422, 0.001],
  [0.8513, 14.412, -0.009], [0.8546, 14.418, -0.002], [0.8582, 14.407, -0.013], [0.8613, 14.413, -0.006], [0.8646, 14.403, -0.015],
  [0.8682, 14.41, -0.007], [0.8713, 14.406, -0.01], [0.8746, 14.4, -0.014], [0.8782, 14.408, -0.003], [0.8813, 14.398, -0.012],
  [0.8846, 14.405, -0.003], [0.8882, 14.396, -0.01], [0.8913, 14.402, -0.001], [0.8946, 14.394, -0.006], [0.8982, 14.399, 0.002],
];

const observations = [
  ...obsDescent, ...obsMinimum, ...obsRise, ...obsPlateauEarly, ...obsPlateauMid, ...obsPlateauLate,
  ...obsFadeEarly, ...obsFadeMid, ...obsFadeLate, ...obsTrough, ...obsPeak,
  ...obsCoreA, ...obsCoreB, ...obsCoreC,
];

const FONT = "'Liberation Serif', 'Times New Roman', serif";

export default function App() {
  const ref = useRef<HTMLDivElement>(null);

  useEffect(() => {
    if (!ref.current) return;
    const chart = echarts.init(ref.current, undefined, { renderer: "svg" });

    // phase-folded data shown over two cycles
    const magPts: number[][] = [];
    const resPts: number[][] = [];
    for (const cycle of [0, 1]) {
      for (const [p, m, r] of observations) {
        magPts.push([p + cycle, m]);
        resPts.push([p + cycle, r]);
      }
    }
    const modelPts: number[][] = [];
    for (const cycle of [0, 1]) {
      modelPhase.forEach((p, i) => {
        if (cycle === 1 && i === 0) return;
        modelPts.push([p + cycle, modelMag[i]]);
      });
    }

    const tickStyle = { show: true, inside: false, length: 21, lineStyle: { color: "#000", width: 2.8 } };
    const labelBase = { color: "#000", fontFamily: FONT, fontSize: 47, lineHeight: 47 };

    const option: any = {
      animation: false,
      backgroundColor: "#ffffff",
      grid: [
        { left: 249, top: 78, width: 2221, height: 865, show: true, borderColor: "#000", borderWidth: 2.8, backgroundColor: "rgba(0,0,0,0)" },
        { left: 249, top: 972, width: 2221, height: 284, show: true, borderColor: "#000", borderWidth: 2.8, backgroundColor: "rgba(0,0,0,0)" },
      ],
      xAxis: [
        {
          gridIndex: 0, type: "value", min: 0, max: 2, interval: phaseInterval,
          axisLine: { show: false }, axisTick: tickStyle, axisLabel: { show: false }, splitLine: { show: false },
        },
        {
          gridIndex: 1, type: "value", min: 0, max: 2, interval: phaseInterval,
          axisLine: { show: false }, axisTick: tickStyle, splitLine: { show: false },
          axisLabel: { ...labelBase, margin: 33, formatter: (v: number) => v.toFixed(2) },
        },
      ],
      yAxis: [
        {
          gridIndex: 0, type: "value", inverse: true, min: 14.3126, max: 14.5141,
          axisLine: { show: false }, splitLine: { show: false },
          axisTick: { ...tickStyle, customValues: magTicks },
          axisLabel: { ...labelBase, margin: 37, customValues: magTicks, formatter: (v: number) => v.toFixed(2) },
        },
        {
          gridIndex: 1, type: "value", inverse: true, min: -0.0708, max: 0.095,
          axisLine: { show: false }, splitLine: { show: false },
          axisTick: { ...tickStyle, customValues: residTicks },
          axisLabel: {
            ...labelBase, margin: 37, customValues: residTicks,
            formatter: (v: number) => (v < -1e-9 ? "\u2212" + Math.abs(v).toFixed(2) : Math.abs(v).toFixed(2)),
          },
        },
      ],
      series: [
        {
          type: "scatter", xAxisIndex: 0, yAxisIndex: 0, data: magPts, symbol: "circle", symbolSize: 14,
          itemStyle: { color: "#000", opacity: 1 }, silent: true, large: false, progressive: 0, clip: true,
        },
        {
          type: "line", xAxisIndex: 0, yAxisIndex: 0, data: modelPts, symbol: "none", showSymbol: false,
          smooth: 0.3, smoothMonotone: "x", lineStyle: { color: "#ff0000", width: 18 }, silent: true, clip: true,
        },
        {
          type: "scatter", xAxisIndex: 1, yAxisIndex: 1, data: resPts, symbol: "circle", symbolSize: 14,
          itemStyle: { color: "#000", opacity: 1 }, silent: true, large: false, progressive: 0, clip: true,
        },
        {
          type: "line", xAxisIndex: 1, yAxisIndex: 1, data: [[0, 0], [2, 0]], symbol: "none", showSymbol: false,
          lineStyle: { color: "#ff0000", width: 5, type: [20, 8] }, silent: true,
        },
      ],
      graphic: [
        {
          type: "text", x: 1357, y: 43,
          style: {
            text: "{i|P} = 694.2752 d, {i|e} = 0.400, {i|i} = 58.53°, {i|ω} = 36.13°, {i|T}{s|0} = 9371.9580 HJD', {i|S} = 0.01473, {i|C} = 0.00148",
            fontFamily: FONT, fontSize: 42, fill: "#000", align: "center", verticalAlign: "middle",
            rich: {
              n: { fontFamily: FONT, fontSize: 42, fill: "#000" },
              i: { fontFamily: FONT, fontSize: 42, fontStyle: "italic", fill: "#000" },
              s: { fontFamily: FONT, fontSize: 29, fill: "#000", padding: [22, 0, 0, 0] },
            },
          },
        },
        {
          type: "text", x: 1360, y: 1376,
          style: { text: "Orbital phase", fontFamily: FONT, fontSize: 52, fill: "#000", align: "center", verticalAlign: "middle" },
        },
        {
          type: "text", x: 54, y: 510, rotation: Math.PI / 2,
          style: {
            text: "{i|I}-band magnitude", fontFamily: FONT, fontSize: 52, fill: "#000", align: "center", verticalAlign: "middle",
            rich: { i: { fontFamily: FONT, fontSize: 52, fontStyle: "italic", fill: "#000" } },
          },
        },
        {
          type: "text", x: 54, y: 1114, rotation: Math.PI / 2,
          style: {
            text: "Δ{i|I} (mag)", fontFamily: FONT, fontSize: 52, fill: "#000", align: "center", verticalAlign: "middle",
            rich: { i: { fontFamily: FONT, fontSize: 52, fontStyle: "italic", fill: "#000" } },
          },
        },
      ],
    };

    chart.setOption(option);
    return () => chart.dispose();
  }, []);

  return (
    <div
      ref={ref}
      style={{ position: "fixed", left: 0, top: 0, width: 2538, height: 1428, background: "#fff" }}
    />
  );
}
